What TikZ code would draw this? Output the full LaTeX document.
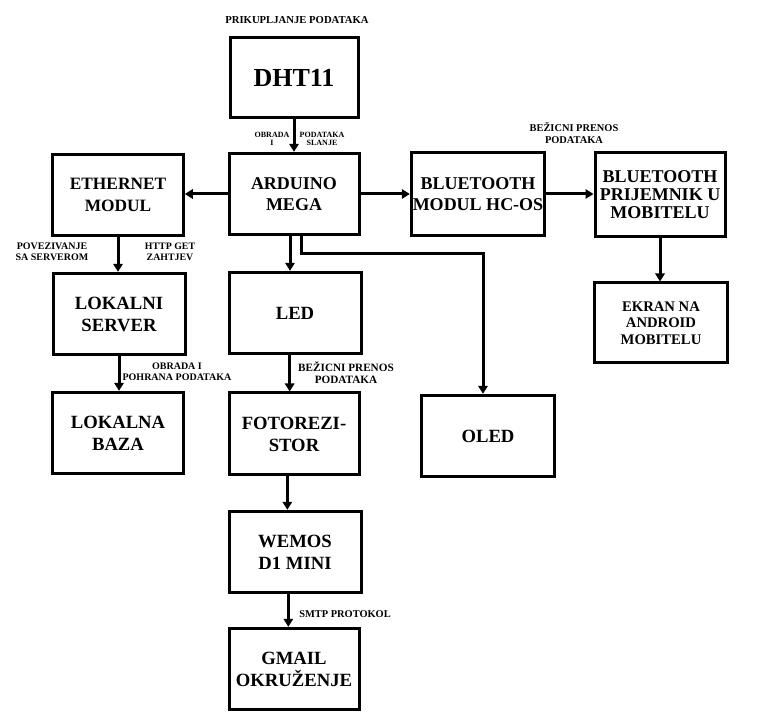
\documentclass[tikz,border=0pt]{standalone}
\usepackage{fontspec}
\setmainfont{Liberation Serif}
\usetikzlibrary{arrows.meta}

\tikzset{every picture/.style={line width=0.75pt}}
\tikzset{
	blok/.style={draw, line width=2.25pt, minimum width=97.5pt, minimum height=61pt, inner sep=1pt, align=center, font=\fontsize{14}{16.5}\selectfont\bfseries},
	oznaka/.style={inner sep=0pt, align=center, font=\fontsize{7.5}{8.6}\selectfont\bfseries},
	veza/.style={line width=2.25pt, -{Triangle[length=6pt,width=7pt]}}
}

\begin{document}
\begin{tikzpicture}[x=0.75pt,y=0.75pt,yscale=-1,xscale=1]
	\useasboundingbox (0,0) rectangle (778,712);

	%Shape: Rectangle [srednji stupac]
	\node [blok, minimum width=96pt, minimum height=60pt, font=\fontsize{19.5}{22}\selectfont\bfseries] (dht) at (294,78) {DHT11};
	\node [blok, font=\fontsize{13.5}{16}\selectfont\bfseries] (ard) at (294,194) {ARDUINO\\MEGA};
	\node [blok, minimum width=99pt] (led) at (295,313) {LED};
	\node [blok, minimum height=61.5pt] (foto) at (294,434) {FOTOREZI-\\STOR};
	\node [blok, minimum width=99pt] (wemos) at (295,552) {WEMOS\\D1 MINI};
	\node [blok] (gmail) at (294,669) {GMAIL\\OKRUŽENJE};

	%Shape: Rectangle [lijevi stupac]
	\node [blok, minimum width=98pt, font=\fontsize{13}{16}\selectfont\bfseries] (eth) at (118,195) {ETHERNET\\MODUL};
	\node [blok, minimum width=99pt] (srv) at (119,314) {LOKALNI\\SERVER};
	\node [blok, minimum width=98pt] (baza) at (118,433) {LOKALNA\\BAZA};

	%Shape: Rectangle [desni stupci]
	\node [blok, minimum width=100pt, minimum height=62pt, font=\fontsize{13.5}{16}\selectfont\bfseries] (btm) at (478,194) {BLUETOOTH\\MODUL HC-OS};
	\node [blok, minimum height=63pt, font=\fontsize{13.5}{13.5}\selectfont\bfseries] (btp) at (660,194.5) {BLUETOOTH\\PRIJEMNIK U\\MOBITELU};
	\node [blok, minimum width=100pt, minimum height=60pt, font=\fontsize{11}{12.5}\selectfont\bfseries] (ekran) at (661,323) {EKRAN NA\\ANDROID\\MOBITELU};
	\node [blok, minimum width=100pt] (oled) at (488,436) {OLED};

	%Straight Lines
	\draw [veza] (dht) -- (ard);
	\draw [veza] (ard.west) -- (ard.west -| eth.east);
	\draw [veza] (ard.east) -- (ard.east -| btm.west);
	\draw [veza] (btm.east) -- (btm.east -| btp.west);
	\draw [veza] (btp.south) -- (btp.south |- ekran.north);
	\draw [veza] (eth.south) -- (eth.south |- srv.north);
	\draw [veza] (srv.south) -- (srv.south |- baza.north);
	\draw [veza] ([xshift=-3pt]ard.south) -- ([xshift=-3pt]ard.south |- led.north);
	\draw [veza] ([xshift=-4pt]led.south) -- ([xshift=-4pt]led.south |- foto.north);
	\draw [veza] ([xshift=-5pt]foto.south) -- ([xshift=-5pt]foto.south |- wemos.north);
	\draw [veza] ([xshift=-5pt]wemos.south) -- ([xshift=-5pt]wemos.south |- gmail.north);
	%Straight Lines [prema OLED]
	\coordinate (koljeno) at (483,254);
	\draw [veza] ([xshift=5.25pt]ard.south) |- (koljeno) -- (koljeno |- oled.north);

	%Labels
	\node [oznaka, font=\fontsize{8}{9}\selectfont\bfseries] (prik) at (297,20) {PRIKUPLJANJE PODATAKA};
	\node [oznaka, font=\fontsize{6}{6.5}\selectfont\bfseries] (obr1) at (272,139) {OBRADA\\I};
	\node [oznaka, font=\fontsize{6}{6.5}\selectfont\bfseries] (obr2) at (322,139) {PODATAKA\\SLANJE};
	\node [oznaka] (pov) at (52,252) {POVEZIVANJE\\SA SERVEROM};
	\node [oznaka, font=\fontsize{7.4}{8.6}\selectfont\bfseries] (http) at (170,252) {HTTP GET\\ZAHTJEV};
	\node [oznaka] (pohr) at (177,372) {OBRADA I\\POHRANA PODATAKA};
	\node [oznaka, font=\fontsize{8.4}{9}\selectfont\bfseries] (bez1) at (346,373) {BEŽICNI PRENOS\\PODATAKA};
	\node [oznaka, font=\fontsize{7.8}{9}\selectfont\bfseries] (bez2) at (574,133) {BEŽICNI PRENOS\\PODATAKA};
	\node [oznaka, font=\fontsize{7.8}{9}\selectfont\bfseries] (smtp) at (345,614) {SMTP PROTOKOL};

\end{tikzpicture}
\end{document}
